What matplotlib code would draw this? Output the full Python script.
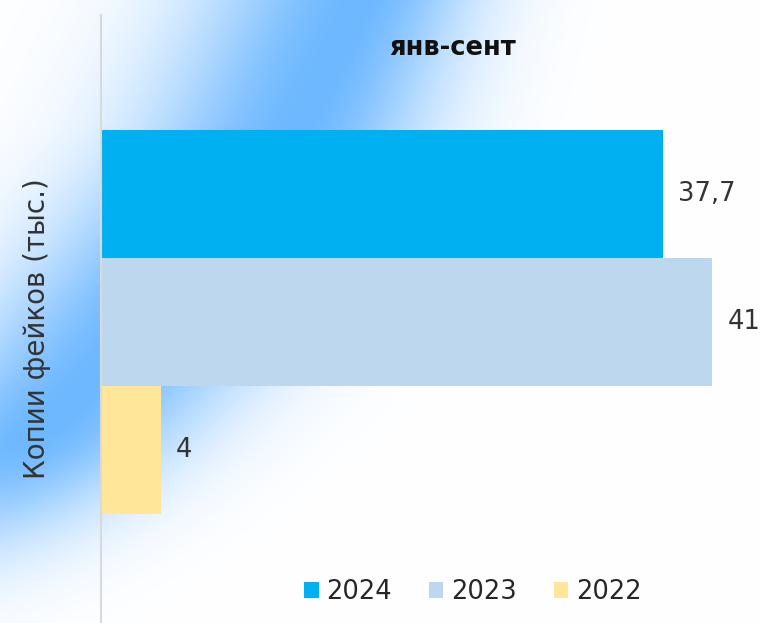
import numpy as np
import matplotlib
matplotlib.use("Agg")
import matplotlib.pyplot as plt
import matplotlib.patches as patches

# data
years = ["2024", "2023", "2022"]
values = [37.7, 41, 4]
value_labels = ["37,7", "41", "4"]
colors = ["#00B0F0", "#BDD7EE", "#FFE699"]
category = "янв-сент"
ylabel = "Копии фейков (тыс.)"

W, H = 760, 623
fig = plt.figure(figsize=(W / 100, H / 100), dpi=100)

# soft blue curved glow behind the chart
bg = fig.add_axes([0, 0, 1, 1], zorder=0)
yy, xx = np.mgrid[0:H, 0:W].astype(float)
xc = np.interp(yy, [0, 125, 370, 470, 623], [360, 300, 100, 0, -130])
dx = xx - xc
s_right = np.interp(yy, [0, 130, 400], [80, 90, 110])
s = np.where(dx < 0, 115.0, s_right)
glow = np.exp(-0.5 * (dx / s) ** 2)
glow *= np.where(yy > 430, np.exp(-0.5 * ((yy - 430) / 90.0) ** 2), 1.0)
peak = np.array([110, 184, 255]) / 255.0
img = 1 - glow[..., None] * (1 - peak[None, None, :])
bg.imshow(img, aspect="auto", extent=[0, W, H, 0])
bg.set_axis_off()

ax = fig.add_axes([101 / W, 0, 1 - 101 / W, (H - 15) / H], zorder=1)
ax.patch.set_alpha(0)

pos = np.arange(len(years))
bars = ax.barh(pos, values, height=1.0, color=colors, zorder=2)
ax.set_ylim(3.352, -1.398)
ax.set_xlim(0, 44.2)

for b, lab in zip(bars, value_labels):
    ax.annotate(lab, (b.get_width(), b.get_y() + b.get_height() / 2),
                xytext=(11, 0), textcoords="offset points", va="center", ha="left",
                fontsize=18.5, color="#333333")

for side in ["top", "right", "bottom"]:
    ax.spines[side].set_visible(False)
ax.spines["left"].set_color("#D9D9D9")
ax.spines["left"].set_linewidth(1.5)
ax.set_xticks([])
ax.set_yticks([])

fig.text(453 / W, 1 - 48 / H, category, ha="center", va="center",
         fontsize=18.5, fontweight="bold", color="#111111")
fig.text(37 / W, 1 - 329 / H, ylabel, rotation=90, ha="center", va="center",
         fontsize=20, color="#333333")

handles = [patches.Patch(facecolor=c, edgecolor="none") for c in colors]
fig.legend(handles, years, loc="center", bbox_to_anchor=(473 / W, 1 - 592 / H),
           ncol=3, frameon=False, fontsize=18.5, handlelength=0.55, handleheight=0.55,
           handletextpad=0.3, columnspacing=1.45, labelcolor="#262626")

fig.savefig("out.png", dpi=100)
